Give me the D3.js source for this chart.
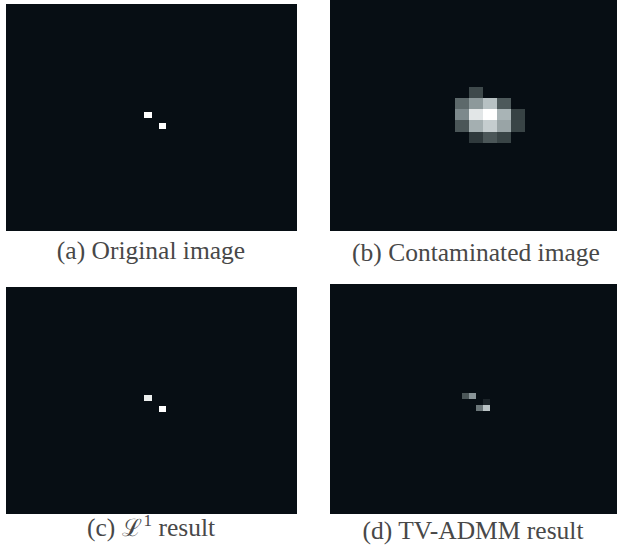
<!DOCTYPE html>
<html>
<head>
<meta charset="utf-8">
<script src="https://cdn.jsdelivr.net/npm/d3@7"></script>
<style>
  html, body { margin: 0; padding: 0; background: #ffffff; }
  svg { display: block; }
</style>
</head>
<body>
<svg id="chart" width="618" height="554"></svg>
<script>
// ---------- DATA ----------
// Panel captions
const captions = ["(a) Original image", "(b) Contaminated image", "(c) \u2112|1| result", "(d) TV-ADMM result"];
// Grid sizes [rows, cols]
const gridA = [40, 40];
const gridB = [21, 21];
const gridC = [40, 40];
const gridD = [40, 40];
// Non-zero pixels: [row, col, intensity 0..1]; all other pixels are 0
const pixelsA = [[19, 19, 1.0], [21, 21, 1.0]];
const pixelsB = [
  [8, 10, 0.26],
  [9, 9, 0.38], [9, 10, 0.57], [9, 11, 0.75], [9, 12, 0.32],
  [10, 9, 0.50], [10, 10, 0.90], [10, 11, 1.0], [10, 12, 0.69], [10, 13, 0.23],
  [11, 9, 0.31], [11, 10, 0.67], [11, 11, 0.80], [11, 12, 0.62], [11, 13, 0.24],
  [12, 10, 0.19], [12, 11, 0.31], [12, 12, 0.24]
];
const pixelsC = [[19, 19, 0.93], [21, 21, 1.0]];
const pixelsD = [[19, 18, 0.31], [19, 19, 0.55], [20, 21, 0.10], [21, 20, 0.43], [21, 21, 0.76]];
// Colour map stops
const colorDomain = [0, 0.25, 0.5, 0.75, 1];

// ---------- LAYOUT ----------
const colorRange = ["#070e14", "#3b4648", "#7d898c", "#b7c1c3", "#ffffff"];
const color = d3.scaleLinear().domain(colorDomain).range(colorRange).clamp(true);

const panels = [
  { grid: gridA, pixels: pixelsA, box: [6, 4, 291, 227], gx: 6, gy: 4, cw: 291 / 40, ch: 227 / 40, cap: [151, 259] },
  { grid: gridB, pixels: pixelsB, box: [330, 0, 287, 231], gx: 330, gy: -2.9, cw: 13.9, ch: 11.2, cap: [476, 261] },
  { grid: gridC, pixels: pixelsC, box: [6, 287, 291, 227], gx: 6, gy: 287, cw: 291 / 40, ch: 227 / 40, cap: [151, 536] },
  { grid: gridD, pixels: pixelsD, box: [330, 284, 287, 230], gx: 332.55, gy: 284, cw: 7.175, ch: 5.75, cap: [473, 539] }
];

const svg = d3.select("#chart");
const defs = svg.append("defs");

panels.forEach((p, i) => {
  const [rows, cols] = p.grid;
  const matrix = [];
  const lookup = new Map(p.pixels.map(d => [d[0] + "_" + d[1], d[2]]));
  for (let r = 0; r < rows; r++) {
    for (let c = 0; c < cols; c++) {
      matrix.push({ r, c, v: lookup.get(r + "_" + c) || 0 });
    }
  }
  const x = d3.scaleBand().domain(d3.range(cols)).range([p.gx, p.gx + cols * p.cw]).padding(0);
  const y = d3.scaleBand().domain(d3.range(rows)).range([p.gy, p.gy + rows * p.ch]).padding(0);

  const [bx, by, bw, bh] = p.box;
  defs.append("clipPath").attr("id", "clip" + i)
    .append("rect").attr("x", bx).attr("y", by).attr("width", bw).attr("height", bh);

  const g = svg.append("g").attr("clip-path", `url(#clip${i})`);
  g.append("rect").attr("x", bx).attr("y", by).attr("width", bw).attr("height", bh).attr("fill", color(0));
  g.selectAll("rect.cell").data(matrix).join("rect")
    .attr("class", "cell")
    .attr("x", d => x(d.c))
    .attr("y", d => y(d.r))
    .attr("width", x.bandwidth() + 0.3)
    .attr("height", y.bandwidth() + 0.3)
    .attr("fill", d => color(d.v))
    .attr("shape-rendering", "crispEdges");

  const t = svg.append("text")
    .attr("x", p.cap[0]).attr("y", p.cap[1])
    .attr("text-anchor", "middle")
    .style("font-family", '"Liberation Serif"')
    .style("font-size", "25.5px")
    .attr("fill", "#484848");
  const parts = captions[i].split("|");
  if (parts.length === 1) {
    t.text(captions[i]);
  } else {
    t.append("tspan").text(parts[0].replace("\u2112", ""));
    t.append("tspan").text("\u2112").style("font-size", "24px");
    t.append("tspan").text(parts[1]).style("font-size", "17px").attr("dy", -10).attr("dx", 2);
    t.append("tspan").text(parts[2]).attr("dy", 10);
  }
});
</script>
</body>
</html>
